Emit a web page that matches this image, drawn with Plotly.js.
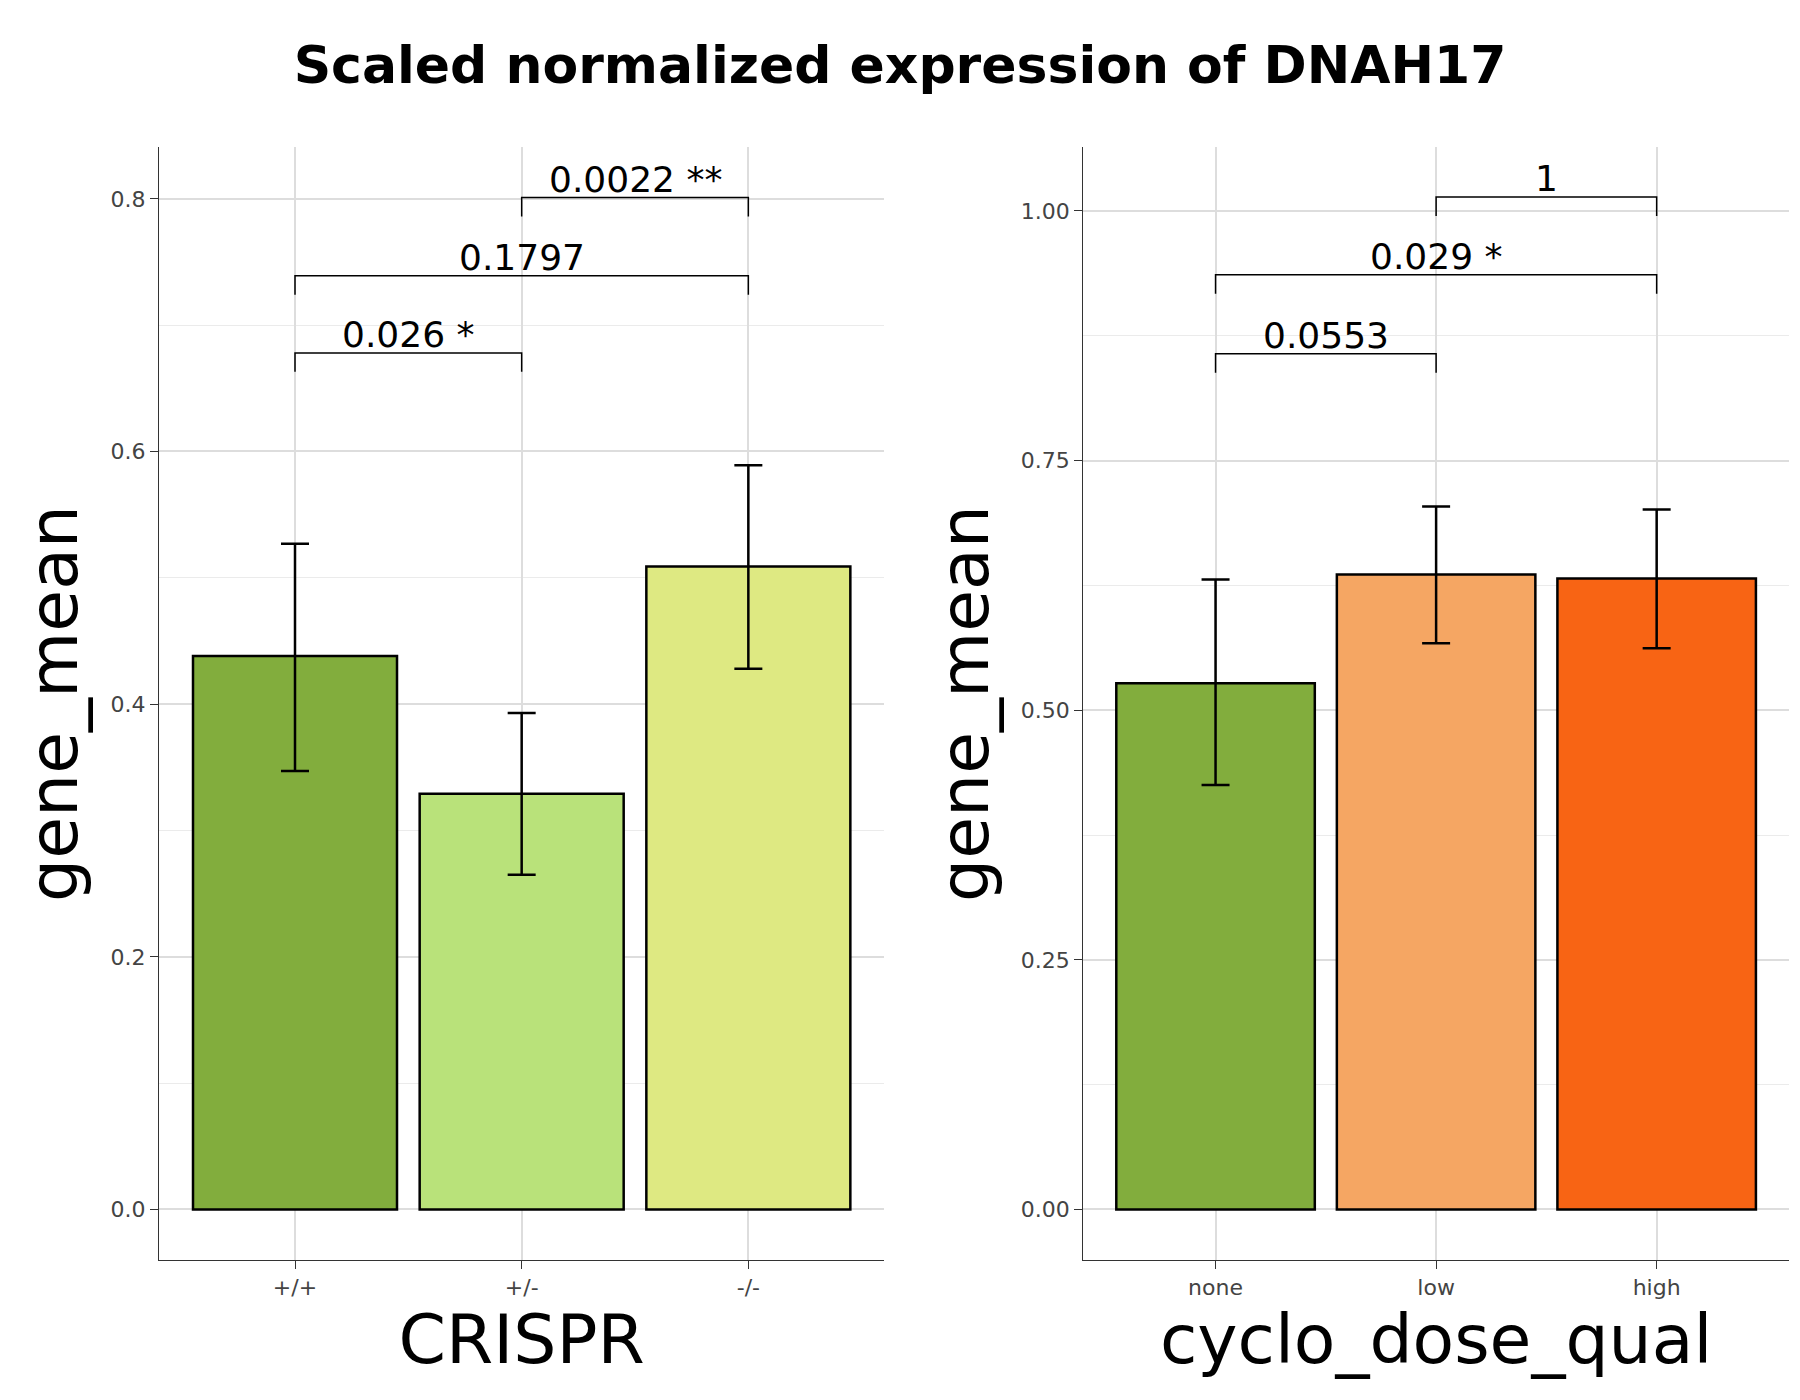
<!DOCTYPE html>
<html><head><meta charset="utf-8">
<script src="https://cdn.plot.ly/plotly-3.0.1.min.js"></script>
<style>body{margin:0;background:#fff}#c{width:1800px;height:1400px}</style>
</head><body><div id="c"></div>
<script>
const crisprCats = ['+/+', '+/-', '-/-'];
const crisprMean = [0.438, 0.329, 0.509];
const crisprLo = [0.347, 0.265, 0.428];
const crisprHi = [0.527, 0.393, 0.589];
const crisprColors = ['#82AD3D', '#B9E27A', '#DEE982'];
const doseCats = ['none', 'low', 'high'];
const doseMean = [0.527, 0.636, 0.632];
const doseLo = [0.425, 0.567, 0.562];
const doseHi = [0.631, 0.704, 0.701];
const doseColors = ['#82AD3D', '#F5A663', '#F86414'];
// brackets: [from, to, y, label]
const crisprBrackets = [[0,1,0.678,'0.026 *'],[0,2,0.739,'0.1797'],[1,2,0.801,'0.0022 **']];
const doseBrackets = [[0,1,0.857,'0.0553'],[0,2,0.936,'0.029 *'],[1,2,1.014,'1']];

function barTrace(cats, m, lo, hi, col, xa, ya){
  return {type:'bar', x:cats, y:m, xaxis:xa, yaxis:ya, width:0.9,
    marker:{color:col, line:{color:'#000', width:2.5}},
    error_y:{type:'data', symmetric:false, array:hi.map((h,i)=>h-m[i]), arrayminus:m.map((v,i)=>v-lo[i]), color:'#000', thickness:2.5, width:14},
    showlegend:false, hoverinfo:'skip'};
}
const shapes=[], annotations=[];
function brackets(list, xr, yr, drop){
  list.forEach(([a,b,y,t])=>{
    shapes.push({type:'path', xref:xr, yref:yr, line:{color:'#000', width:1.5},
      path:`M ${a} ${y-drop} L ${a} ${y} L ${b} ${y} L ${b} ${y-drop}`});
    annotations.push({xref:xr, yref:yr, x:(a+b)/2, y:y, text:t, showarrow:false, yanchor:'bottom', yshift:-4, font:{size:36, color:'#000'}});
  });
}
brackets(crisprBrackets,'x','y',0.015);
brackets(doseBrackets,'x2','y2',0.019);

const grid = '#DDDDDD';
function yax(range, dtick, fmt){
  return {range:range, dtick:dtick, tickformat:fmt, showgrid:true, gridcolor:grid, gridwidth:2,
    minor:{dtick:dtick/2, showgrid:true, gridcolor:'#EBEBEB', gridwidth:1},
    showline:true, linecolor:'#333', linewidth:1, ticks:'outside', ticklen:8, tickcolor:'#333',
    tickfont:{size:22, color:'#444'}, zeroline:false,
    title:{text:'gene_mean', font:{size:68, color:'#000'}, standoff:10}};
}
function xax(dom){
  return {domain:dom, showgrid:true, gridcolor:grid, gridwidth:2, showline:true, linecolor:'#333', linewidth:1,
    ticks:'outside', ticklen:8, tickcolor:'#333', tickfont:{size:22, color:'#444'}, range:[-0.6,2.6]};
}
const layout = {
  width:1800, height:1400, paper_bgcolor:'#fff', plot_bgcolor:'#fff',
  font:{family:'DejaVu Sans, sans-serif'},
  margin:{l:159, r:11, t:147, b:140},
  title:{text:'<b>Scaled normalized expression of DNAH17</b>', x:0.5, y:0.954, yanchor:'middle', font:{size:52, color:'#000'}},
  xaxis:Object.assign(xax([0,0.445]), {title:{text:'CRISPR', font:{size:68, color:'#000'}, standoff:10}}),
  xaxis2:Object.assign(xax([0.567,1]), {title:{text:'cyclo_dose_qual', font:{size:68, color:'#000'}, standoff:10}}),
  yaxis:yax([-0.04,0.841], 0.2, '.1f'),
  yaxis2:Object.assign(yax([-0.0506,1.064], 0.25, '.2f'), {anchor:'x2'}),
  shapes:shapes, annotations:annotations, bargap:0.1
};
layout.xaxis2.anchor='y2';
Plotly.newPlot('c', [
  barTrace(crisprCats, crisprMean, crisprLo, crisprHi, crisprColors, 'x', 'y'),
  barTrace(doseCats, doseMean, doseLo, doseHi, doseColors, 'x2', 'y2')
], layout, {displayModeBar:false});
</script></body></html>
